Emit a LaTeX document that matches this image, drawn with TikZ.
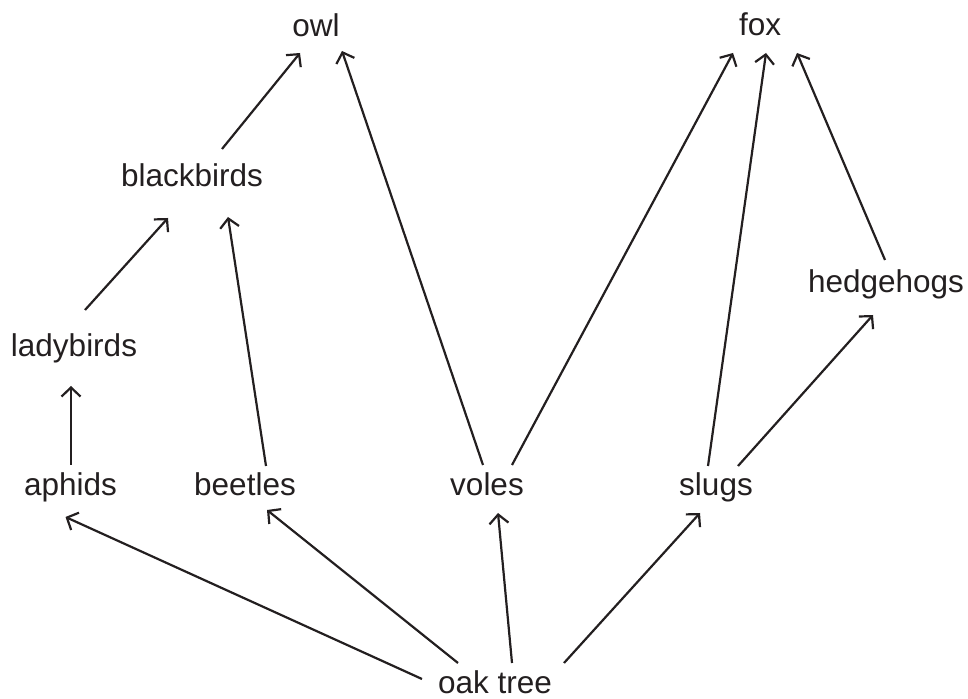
\documentclass[tikz,border=0pt]{standalone}
\usepackage{fontspec}
\setmainfont{Liberation Sans}
\usepackage{tikz}
\usetikzlibrary{arrows.meta}
\definecolor{ink}{HTML}{231F20}

\begin{document}
\begin{tikzpicture}[>={Straight Barb[length=9pt,width=19pt]},x=1pt,y=1pt,
	organism/.style={anchor=base,inner sep=0pt,text=ink,font=\fontsize{31.5}{37}\selectfont},
	flow/.style={->,draw=ink,line width=2.2pt}]
		\useasboundingbox (0,0) rectangle (968,698);
		% Top predators
		\node[organism] (owl) at (316,661) {owl};
		\node[organism] (fox) at (760,662) {fox};
		% Middle
		\node[organism] (blackbirds) at (192,511) {blackbirds};
		\node[organism] (hedgehogs) at (886,405) {hedgehogs};
		\node[organism] (ladybirds) at (74,341) {ladybirds};
		% Bottom row
		\node[organism] (aphids) at (70.5,202) {aphids};
		\node[organism] (beetles) at (245,202) {beetles};
		\node[organism] (voles) at (487,202) {voles};
		\node[organism] (slugs) at (716,202) {slugs};
		% Producer
		\node[organism] (oak) at (495,5) {oak tree};
		
		% to owl
		\draw[flow] ([shift={(30,38)}]blackbirds.base) -- ([shift={(-16,-16)}]owl.base);
		\draw[flow] ([shift={(-4,31)}]voles.base) -- ([shift={(26,-14)}]owl.base);
		% to fox
		\draw[flow] ([shift={(25,31)}]voles.base) -- ([shift={(-27,-17)}]fox.base);
		\draw[flow] ([shift={(-8,30)}]slugs.base) -- ([shift={(6,-17)}]fox.base);
		\draw[flow] ([shift={(-1,33)}]hedgehogs.base) -- ([shift={(37,-17)}]fox.base);
		\draw[flow] ([shift={(22,30)}]slugs.base) -- ([shift={(-13,-22)}]hedgehogs.base);
		% to blackbirds
		\draw[flow] ([shift={(11,47)}]ladybirds.base) -- ([shift={(-24,-31)}]blackbirds.base);
		\draw[flow] ([shift={(21,30)}]beetles.base) -- ([shift={(36,-30)}]blackbirds.base);
		\draw[flow] ([shift={(0.5,31)}]aphids.base) -- ([shift={(-3,-29)}]ladybirds.base);
		% from oak tree
		\draw[flow] ([shift={(-73,14)}]oak.base) -- ([shift={(-5,-21)}]aphids.base);
		\draw[flow] ([shift={(-37,30)}]oak.base) -- ([shift={(22,-14)}]beetles.base);
		\draw[flow] ([shift={(17,30)}]oak.base) -- ([shift={(11,-17)}]voles.base);
		\draw[flow] ([shift={(69,30)}]oak.base) -- ([shift={(-16,-17)}]slugs.base);
	\end{tikzpicture}
\end{document}
